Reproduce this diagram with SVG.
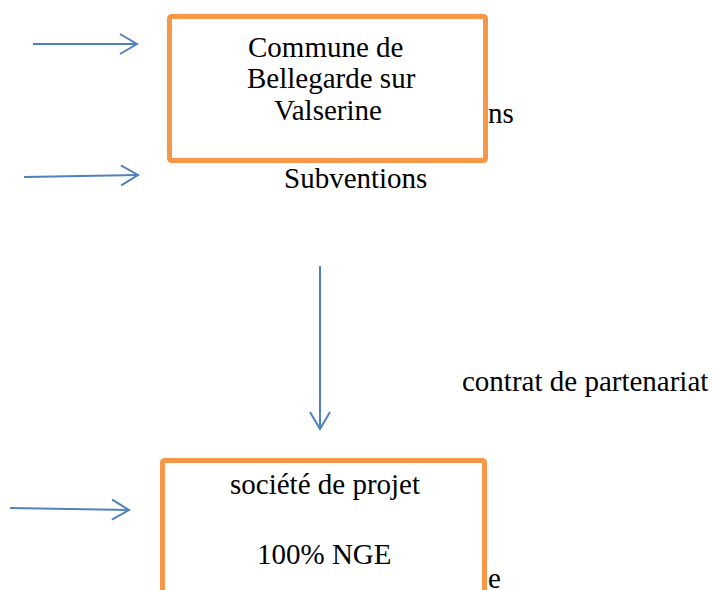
<svg xmlns="http://www.w3.org/2000/svg" width="714" height="590" viewBox="0 0 714 590">
<style>
.box{fill:#ffffff;stroke:#F79646;stroke-width:5}
.t{font-family:"Liberation Serif","Times New Roman",serif;font-size:29px;fill:#000000}
.c{fill:none;stroke:#4F81BD;stroke-width:2}
</style>
<defs>
<marker id="open" markerUnits="userSpaceOnUse" viewBox="-19 -12 22 24" refX="0" refY="0" markerWidth="22" markerHeight="24" orient="auto" overflow="visible">
<path d="M-17,-10 L0,0 L-17,10" fill="none" stroke="#4F81BD" stroke-width="2"/>
</marker>
</defs>
<rect width="714" height="590" fill="#ffffff"/>
<g id="labels">
<text class="t" x="488" y="123">ns</text>
<text class="t" x="284" y="188">Subventions</text>
<text class="t" x="462" y="391">contrat de partenariat</text>
<text class="t" x="488" y="588">e</text>
</g>
<g id="connectors">
<path class="c" d="M33,44 L137,44" marker-end="url(#open)"/>
<path class="c" d="M24,177 L138,175" marker-end="url(#open)"/>
<path class="c" d="M320,266 L320,429" marker-end="url(#open)"/>
<path class="c" d="M10,508 L129,510" marker-end="url(#open)"/>
</g>
<g id="commune">
<rect class="box" x="169.5" y="16.5" width="316" height="144" rx="2"/>
<text class="t" x="248" y="57">Commune de</text>
<text class="t" x="247" y="88">Bellegarde sur</text>
<text class="t" x="274" y="120">Valserine</text>
</g>
<g id="societe">
<rect class="box" x="162.5" y="460.5" width="322" height="150" rx="2"/>
<text class="t" x="230" y="494">société de projet</text>
<text class="t" x="257" y="564">100% NGE</text>
</g>
</svg>
